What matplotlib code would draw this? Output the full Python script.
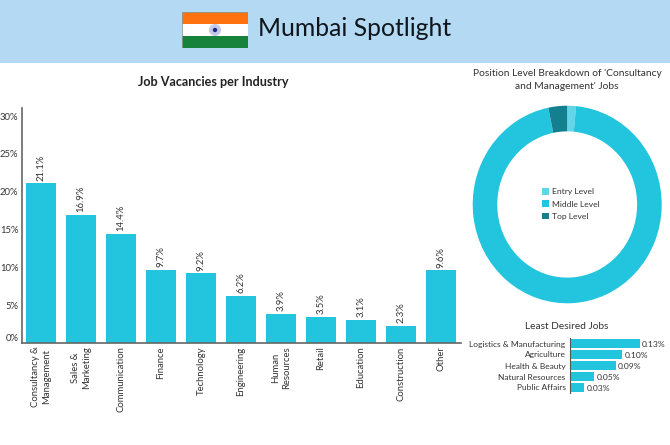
import matplotlib
matplotlib.use("Agg")
import matplotlib.pyplot as plt
from matplotlib.patches import Rectangle, Circle

W, H = 670, 445

industries = ["Consultancy &\nManagement", "Sales &\nMarketing", "Communication", "Finance",
              "Technology", "Engineering", "Human\nResources", "Retail", "Education",
              "Construction", "Other"]
vacancies = [21.1, 16.9, 14.4, 9.7, 9.2, 6.2, 3.9, 3.5, 3.1, 2.3, 9.6]
y_ticks = [0, 5, 10, 15, 20, 25, 30]

levels = ["Entry Level", "Middle Level", "Top Level"]
level_share = [1.5, 95.3, 3.2]

least_jobs = ["Logistics & Manufacturing", "Agriculture", "Health & Beauty",
              "Natural Resources", "Public Affairs"]
least_share = [0.13, 0.10, 0.09, 0.05, 0.03]
least_bar_len = [0.13, 0.098, 0.086, 0.046, 0.027]

BAR = "#22c5dd"
TEXT = "#333333"
plt.rcParams["font.family"] = ["Lato", "DejaVu Sans"]


def px_axes(fig, left, top, right, bottom):
    return fig.add_axes([left / W, 1 - bottom / H, (right - left) / W, (bottom - top) / H])


fig = plt.figure(figsize=(W / 100, H / 100), dpi=100, facecolor="white")

# header band and flag
fig.add_artist(Rectangle((0, 1 - 63 / H), 1, 63 / H, transform=fig.transFigure,
                         facecolor="#b3d9f3", edgecolor="none", zorder=-1))
flag = px_axes(fig, 182, 12, 248, 48)
flag.set_xlim(0, 66)
flag.set_ylim(36, 0)
flag.axis("off")
flag.add_patch(Rectangle((0, 0), 66, 12, facecolor="#ff7210", edgecolor="none"))
flag.add_patch(Rectangle((0, 12), 66, 12, facecolor="white", edgecolor="none"))
flag.add_patch(Rectangle((0, 24), 66, 12, facecolor="#16823c", edgecolor="none"))
flag.add_patch(Rectangle((0, 0), 66, 36, fill=False, edgecolor="#8a9a90", linewidth=0.6))
flag.add_patch(Circle((33, 18), 6, facecolor="#c5c8e6", edgecolor="none"))
flag.add_patch(Circle((33, 18), 2.2, facecolor="#1c2a80", edgecolor="none"))

fig.text(258 / W, 1 - 29 / H, "Mumbai Spotlight", fontsize=17.8,
         color="#10151c", va="center", ha="left")
fig.text(213 / W, 1 - 82 / H, "Job Vacancies per Industry", fontsize=9.1,
         fontweight="bold", color="#222222", ha="center", va="center")

# main bars
ax = px_axes(fig, 21.5, 108, 461, 343)
pos = list(range(len(industries)))
ax.bar(pos, vacancies, width=0.75, color=BAR, edgecolor="none")
ax.set_xlim(-0.4875, 10.5)
ax.set_ylim(0, 31.08)
for s in ["top", "right"]:
    ax.spines[s].set_visible(False)
for s in ["left", "bottom"]:
    ax.spines[s].set_color("#666666")
    ax.spines[s].set_linewidth(1.2)
ax.set_yticks(y_ticks)
ax.set_yticklabels([f"{t}%" for t in y_ticks], fontsize=6.8, color=TEXT)
ax.get_yticklabels()[0].set_verticalalignment("bottom")
ax.tick_params(axis="y", length=0, pad=2.2)
ax.set_xticks(pos)
ax.set_xticklabels(industries, rotation=90, fontsize=6.8, color=TEXT, ha="center", va="top",
                   multialignment="center", linespacing=1.3)
ax.tick_params(axis="x", length=0, pad=2.5)
for p, v in zip(pos, vacancies):
    ax.annotate(f"{v}%", (p, v), xytext=(0, 2), textcoords="offset points", rotation=90,
                ha="center", va="bottom", fontsize=6.8, color=TEXT)

# donut
fig.text(567 / W, 1 - 80 / H, "Position Level Breakdown of 'Consultancy\nand Management' Jobs",
         fontsize=7.4, color=TEXT, ha="center", va="center", linespacing=1.5)
dn = px_axes(fig, 472.7, 105.7, 661.7, 303.3)
wedges, _ = dn.pie(level_share, colors=["#62d6e8", BAR, "#14808f"], startangle=90, counterclock=False,
                   radius=1, wedgeprops={"width": 0.26, "linewidth": 0})
dn.set_aspect("auto")
dn.set_xlim(-1, 1)
dn.set_ylim(-1, 1)
fig.legend(wedges, levels, loc="center left", bbox_to_anchor=(542 / W, 1 - 204 / H),
           frameon=False, fontsize=6.1, labelcolor=TEXT, handlelength=0.85, handleheight=0.85,
           handletextpad=0.38, labelspacing=0.6, borderpad=0, borderaxespad=0)

# least desired
fig.text(567 / W, 1 - 326.5 / H, "Least Desired Jobs", fontsize=7.3, color=TEXT, ha="center", va="center")
lx = px_axes(fig, 569.7, 338, 660, 393)
ypos = list(range(len(least_jobs)))
lx.barh(ypos, least_bar_len, height=0.75, color=BAR, edgecolor="none")
lx.set_xlim(0, 0.1679)
lx.set_ylim(4.5, -0.5)
for s in ["top", "right", "bottom"]:
    lx.spines[s].set_visible(False)
lx.spines["left"].set_color("#555555")
lx.spines["left"].set_linewidth(0.8)
lx.set_xticks([])
lx.set_yticks(ypos)
lx.set_yticklabels(least_jobs, fontsize=6, color=TEXT)
lx.tick_params(axis="y", length=0, pad=3)
for y, v, lab in zip(ypos, least_bar_len, least_share):
    lx.annotate(f"{lab:.2f}%", (v, y), xytext=(1.5, -1), textcoords="offset points",
                ha="left", va="center", fontsize=6.1, color=TEXT)

fig.savefig("out.png", dpi=100)
